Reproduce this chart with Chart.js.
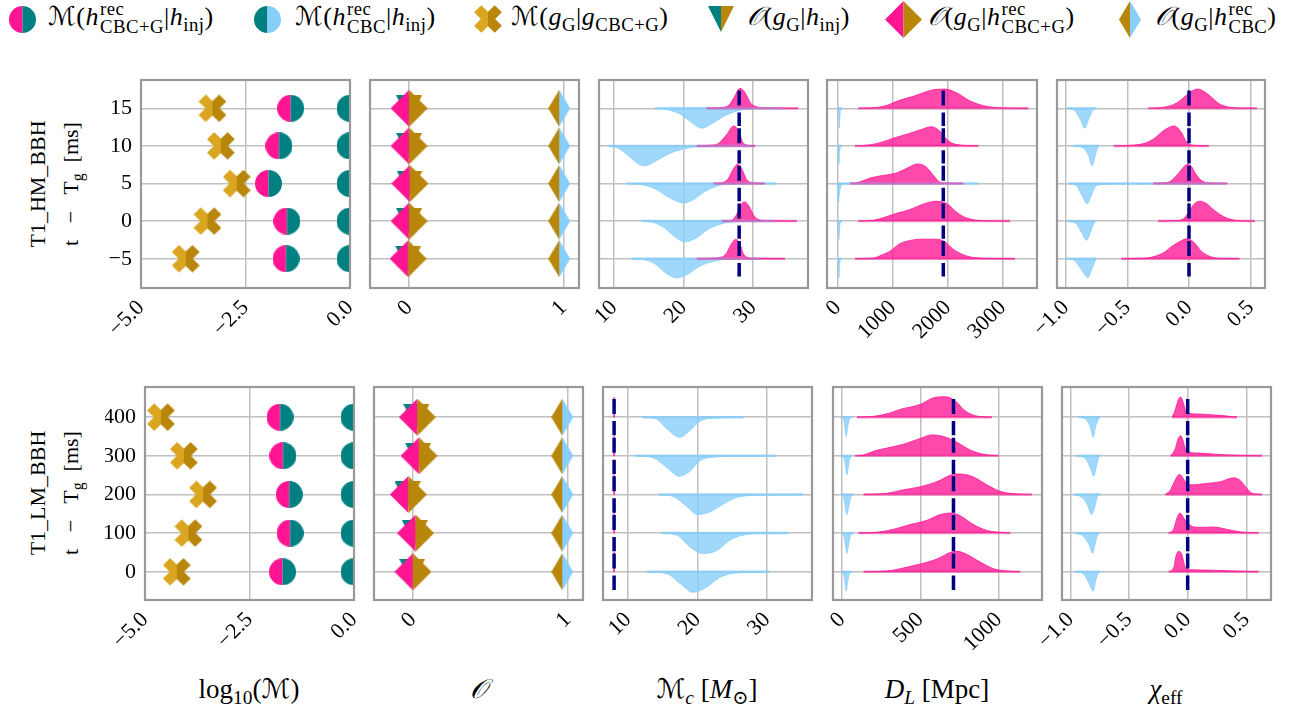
<!DOCTYPE html>
<html>
<head>
<meta charset="utf-8">
<script src="https://cdn.jsdelivr.net/npm/chart.js@4.4.1/dist/chart.umd.min.js"></script>
<style>
  body { margin: 0; width: 1316px; height: 711px; position: relative; overflow: hidden; background: #fff;
         font-family: "Liberation Serif", "DejaVu Serif", serif; color: #000; }
  canvas.panel { position: absolute; left: 0; top: 0; }
  .icon { position: absolute; }
  .lg { position: absolute; top: 1px; font-size: 26px; line-height: 30px; letter-spacing: 0.5px; white-space: nowrap; }
  .cal { font-family: "DejaVu Serif", "DejaVu Sans", serif; font-style: italic; }
  .ss { display: inline-block; position: relative; font-size: 0.72em; line-height: 1; vertical-align: -0.42em; margin-left: 1px; }
  .ss .up { position: absolute; left: 0; top: -0.98em; }
  sub { font-size: 0.72em; vertical-align: -0.3em; line-height: 0; }
  .ylab { position: absolute; width: 240px; height: 66px; font-size: 22px; line-height: 33px; text-align: center;
          transform: rotate(-90deg); white-space: nowrap; }
  .xlab { position: absolute; top: 673px; width: 200px; font-size: 27px; line-height: 32px; text-align: center; white-space: nowrap; }
</style>
</head>
<body>

<div class="lg" style="left:48px"><span class="cal">ℳ</span>(<i>h</i><span class="ss"><span class="up">rec</span>CBC+G</span>|<i>h</i><sub>inj</sub>)</div>
<div class="lg" style="left:295px"><span class="cal">ℳ</span>(<i>h</i><span class="ss"><span class="up">rec</span>CBC</span>|<i>h</i><sub>inj</sub>)</div>
<div class="lg" style="left:511px"><span class="cal">ℳ</span>(<i>g</i><sub>G</sub>|<i>g</i><sub>CBC+G</sub>)</div>
<div class="lg" style="left:747px"><span class="cal">𝒪</span>(<i>g</i><sub>G</sub>|<i>h</i><sub>inj</sub>)</div>
<div class="lg" style="left:928px"><span class="cal">𝒪</span>(<i>g</i><sub>G</sub>|<i>h</i><span class="ss"><span class="up">rec</span>CBC+G</span>)</div>
<div class="lg" style="left:1155px"><span class="cal">𝒪</span>(<i>g</i><sub>G</sub>|<i>h</i><span class="ss"><span class="up">rec</span>CBC</span>)</div>

<div class="ylab" style="left:-66px; top:151px">T1_HM_BBH<br>t &ensp;−&ensp; T<sub>g</sub>&ensp;[ms]</div>
<div class="ylab" style="left:-66px; top:460px">T1_LM_BBH<br>t &ensp;−&ensp; T<sub>g</sub>&ensp;[ms]</div>

<div class="xlab" style="left:149px">log<sub>10</sub>(<span class="cal">ℳ</span>)</div>
<div class="xlab" style="left:378px"><span class="cal">𝒪</span></div>
<div class="xlab" style="left:607px"><span class="cal">ℳ</span><sub><i>c</i></sub> [<i>M</i><sub>⊙</sub>]</div>
<div class="xlab" style="left:837px"><i>D</i><sub><i>L</i></sub> [Mpc]</div>
<div class="xlab" style="left:1066px"><i>χ</i><sub>eff</sub></div>

<script>
// ---- row offsets (t - Tg) ----
const hmOffsets = [15, 10, 5, 0, -5];
const lmOffsets = [400, 300, 200, 100, 0];
const hmTimeTicks = [-5, 0, 5, 10, 15];
const lmTimeTicks = [0, 100, 200, 300, 400];

// ---- x tick values ----
const misTicks = [-5, -2.5, 0];
const ovTicks = [0, 1];
const mcTicks = [10, 20, 30];
const hmDlTicks = [0, 1000, 2000, 3000];
const lmDlTicks = [0, 500, 1000];
const chiTicks = [-1, -0.5, 0, 0.5];

// ---- log10 mismatches ----
const hmMisCbcG = [-1.42, -1.70, -1.95, -1.51, -1.53];
const hmMisCbc = [0, 0, 0, 0, 0];
const hmMisGlitch = [-3.29, -3.09, -2.71, -3.41, -3.93];
const lmMisCbcG = [-1.77, -1.70, -1.55, -1.53, -1.71];
const lmMisCbc = [0, 0, 0, 0, 0];
const lmMisGlitch = [-4.62, -4.07, -3.61, -3.96, -4.24];

// ---- glitch overlaps ----
const hmOvInj = [0.0, 0.0, 0.003, 0.0, -0.006];
const hmOvCbcG = [0.0, 0.0, 0.005, 0.0, -0.006];
const hmOvCbc = [0.972, 0.972, 0.972, 0.972, 0.972];
const lmOvInj = [0.022, 0.033, -0.035, 0.012, -0.005];
const lmOvCbcG = [0.028, 0.039, -0.03, 0.017, 0.0];
const lmOvCbc = [0.965, 0.965, 0.965, 0.965, 0.965];

// ---- injected values ----
const hmInj = { mc: 28.0, dl: 1920, chi: 0.0 };
const lmInj = { mc: 8.0, dl: 712, chi: 0.0 };

// ---- posterior ridges: [x, height as fraction of row gap], one list per row ----
const hmMcCbcG = [
  [[23.3,0],[25.5,0.02],[26.5,0.08],[27.3,0.3],[28.1,0.53],[28.9,0.4],[29.6,0.15],[30.5,0.04],[32,0.01],[36.5,0]],
  [[21.9,0],[24,0.02],[25,0.06],[26.2,0.3],[27.2,0.53],[27.9,0.4],[28.5,0.1],[29.2,0.02],[30.3,0]],
  [[24.3,0],[25.5,0.02],[26.4,0.12],[27.2,0.4],[27.8,0.51],[28.4,0.38],[29.1,0.1],[30,0.02],[31.7,0]],
  [[25.5,0],[27,0.03],[27.7,0.2],[28.3,0.45],[28.8,0.51],[29.4,0.4],[30.2,0.12],[31.5,0.02],[36.3,0]],
  [[21.9,0],[24.5,0.02],[26,0.1],[26.9,0.4],[27.5,0.52],[28.1,0.4],[28.7,0.1],[29.8,0.02],[34.6,0]]
];
const hmMcCbc = [
  [[15.9,0],[17.5,-0.03],[19.5,-0.15],[21.3,-0.4],[22.6,-0.53],[24,-0.42],[25.7,-0.22],[27.7,-0.07],[30,-0.01],[34.1,0]],
  [[9.2,0],[10.5,-0.05],[12,-0.25],[13.5,-0.48],[14.5,-0.53],[16,-0.4],[18,-0.2],[20,-0.08],[22,-0.02],[30,0]],
  [[11.8,0],[14,-0.03],[16,-0.15],[18,-0.38],[20,-0.52],[21.5,-0.42],[23,-0.22],[24.8,-0.07],[27,-0.01],[33.2,0]],
  [[14,0],[15.5,-0.03],[17,-0.15],[18.8,-0.42],[20.2,-0.55],[21.8,-0.45],[23.5,-0.22],[25.7,-0.06],[28,-0.01],[32.9,0]],
  [[12.5,0],[14.5,-0.03],[16,-0.15],[17.6,-0.4],[19,-0.51],[20.5,-0.42],[22.3,-0.2],[24.5,-0.06],[27,-0.01],[31,0]]
];
const hmDlCbcG = [
  [[375,0],[700,0.02],[900,0.08],[1100,0.2],[1400,0.33],[1700,0.48],[1950,0.51],[2150,0.42],[2400,0.2],[2650,0.07],[3000,0.01],[3465,0]],
  [[315,0],[600,0.03],[800,0.1],[1000,0.2],[1300,0.33],[1550,0.45],[1700,0.51],[1850,0.4],[2000,0.15],[2150,0.04],[2556,0]],
  [[224,0],[400,0.04],[600,0.15],[850,0.22],[1050,0.27],[1250,0.4],[1450,0.52],[1600,0.45],[1750,0.2],[1870,0.03],[2284,0]],
  [[375,0],[650,0.02],[850,0.1],[1050,0.2],[1300,0.3],[1550,0.45],[1800,0.53],[2000,0.45],[2150,0.25],[2350,0.08],[2650,0.01],[3133,0]],
  [[315,0],[650,0.02],[800,0.1],[950,0.2],[1130,0.4],[1300,0.48],[1500,0.52],[1800,0.52],[1950,0.45],[2100,0.25],[2350,0.07],[2700,0.01],[3224,0]]
];
const hmDlCbc = [
  [[-10,0],[10,-0.08],[22,-0.35],[29,-0.53],[36,-0.3],[50,-0.05],[80,0]],
  [[-10,0],[8,-0.08],[16,-0.3],[22,-0.49],[30,-0.25],[45,-0.04],[75,0]],
  [[-18,0],[0,-0.15],[8,-0.4],[14,-0.52],[24,-0.35],[45,-0.12],[80,-0.03],[140,-0.005],[2556,0]],
  [[-10,0],[8,-0.08],[16,-0.3],[22,-0.49],[30,-0.25],[45,-0.04],[75,0]],
  [[-10,0],[8,-0.08],[16,-0.3],[22,-0.5],[30,-0.25],[45,-0.04],[75,0]]
];
const hmChiCbcG = [
  [[-0.33,0],[-0.2,0.03],[-0.1,0.14],[-0.03,0.32],[0.03,0.47],[0.07,0.51],[0.12,0.45],[0.18,0.3],[0.24,0.13],[0.31,0.04],[0.4,0.01],[0.55,0]],
  [[-0.61,0],[-0.45,0.02],[-0.36,0.07],[-0.28,0.2],[-0.2,0.42],[-0.12,0.53],[-0.06,0.35],[-0.02,0.1],[0.03,0.02],[0.16,0]],
  [[-0.29,0],[-0.2,0.02],[-0.15,0.06],[-0.09,0.25],[-0.04,0.45],[-0.01,0.51],[0.02,0.45],[0.05,0.28],[0.1,0.08],[0.16,0.02],[0.31,0]],
  [[-0.25,0],[-0.12,0.01],[-0.05,0.05],[0.0,0.25],[0.04,0.45],[0.09,0.53],[0.14,0.47],[0.2,0.3],[0.28,0.12],[0.36,0.03],[0.45,0.005],[0.535,0]],
  [[-0.55,0],[-0.4,0.01],[-0.32,0.03],[-0.21,0.15],[-0.13,0.35],[-0.05,0.5],[-0.02,0.53],[0.035,0.45],[0.1,0.2],[0.17,0.06],[0.25,0.01],[0.41,0]]
];
const hmChiCbc = [
  [[-0.99,0],[-0.93,-0.05],[-0.88,-0.3],[-0.845,-0.53],[-0.815,-0.3],[-0.78,-0.05],[-0.75,0]],
  [[-0.94,0],[-0.86,-0.05],[-0.815,-0.25],[-0.785,-0.53],[-0.76,-0.25],[-0.74,-0.05],[-0.73,0]],
  [[-0.98,0],[-0.92,-0.04],[-0.87,-0.3],[-0.825,-0.54],[-0.79,-0.3],[-0.75,-0.05],[-0.6,-0.01],[0.306,0]],
  [[-0.99,0],[-0.92,-0.05],[-0.87,-0.3],[-0.83,-0.51],[-0.8,-0.3],[-0.77,-0.05],[-0.76,0]],
  [[-1.0,0],[-0.93,-0.05],[-0.87,-0.3],[-0.82,-0.5],[-0.79,-0.3],[-0.76,-0.05],[-0.75,0]]
];

const lmMcCbcG = [
  [[7.93,0],[7.98,0.35],[8.0,0.52],[8.02,0.35],[8.07,0]],
  [[7.93,0],[7.98,0.35],[8.0,0.52],[8.02,0.35],[8.07,0]],
  [[7.93,0],[7.98,0.35],[8.0,0.52],[8.02,0.35],[8.07,0]],
  [[7.93,0],[7.98,0.35],[8.0,0.52],[8.02,0.35],[8.07,0]],
  [[7.93,0],[7.98,0.35],[8.0,0.52],[8.02,0.35],[8.07,0]]
];
const lmMcCbc = [
  [[12,0],[14.1,-0.05],[15.6,-0.3],[17.4,-0.52],[18.9,-0.35],[20.4,-0.1],[22.8,-0.02],[26.6,0]],
  [[11,0],[13.6,-0.05],[15.6,-0.3],[17.4,-0.53],[18.9,-0.4],[20.4,-0.12],[22.8,-0.03],[26,-0.005],[31.2,0]],
  [[14.4,0],[16.5,-0.05],[18.4,-0.3],[20,-0.52],[21.8,-0.45],[23.7,-0.25],[25.6,-0.08],[28.5,-0.02],[35.2,0]],
  [[14.8,0],[17,-0.05],[18.9,-0.35],[20.8,-0.53],[22.8,-0.45],[24.7,-0.18],[26.6,-0.05],[29,-0.01],[33.1,0]],
  [[12.7,0],[15.6,-0.05],[17.5,-0.3],[19.4,-0.53],[21.3,-0.4],[23.2,-0.15],[25.2,-0.04],[30.4,0]]
];
const lmDlCbcG = [
  [[96,0],[200,0.02],[300,0.1],[370,0.2],[500,0.33],[585,0.5],[650,0.53],[690,0.5],[735,0.38],[776,0.2],[840,0.05],[900,0.01],[957,0]],
  [[85,0],[138,0.02],[202,0.12],[287,0.2],[393,0.3],[500,0.45],[574,0.54],[648,0.5],[734,0.35],[819,0.15],[904,0.04],[1000,0]],
  [[138,0],[287,0.03],[393,0.12],[500,0.2],[606,0.33],[712,0.52],[755,0.53],[840,0.45],[925,0.25],[1010,0.08],[1095,0.02],[1212,0]],
  [[106,0],[223,0.02],[330,0.1],[415,0.2],[542,0.33],[627,0.48],[691,0.52],[755,0.45],[840,0.22],[925,0.07],[1010,0.02],[1074,0]],
  [[138,0],[287,0.02],[393,0.1],[500,0.2],[606,0.33],[691,0.5],[734,0.53],[798,0.45],[883,0.25],[968,0.08],[1053,0.02],[1138,0]]
];
const lmDlCbc = [
  [[0,0],[12,-0.08],[20,-0.3],[27,-0.5],[35,-0.3],[45,-0.08],[64,0]],
  [[0,0],[15,-0.08],[24,-0.3],[32,-0.49],[40,-0.3],[50,-0.08],[64,0]],
  [[-5,0],[12,-0.1],[22,-0.35],[32,-0.52],[44,-0.3],[58,-0.06],[75,0]],
  [[0,0],[14,-0.1],[24,-0.35],[32,-0.52],[42,-0.3],[55,-0.06],[75,0]],
  [[0,0],[12,-0.08],[20,-0.3],[27,-0.5],[35,-0.3],[45,-0.08],[64,0]]
];
const lmChiCbcG = [
  [[-0.133,0],[-0.11,0.15],[-0.08,0.45],[-0.06,0.52],[-0.04,0.4],[-0.02,0.2],[0.01,0.1],[0.1,0.08],[0.2,0.06],[0.3,0.04],[0.42,0]],
  [[-0.147,0],[-0.11,0.15],[-0.08,0.45],[-0.06,0.52],[-0.04,0.4],[-0.02,0.18],[0.01,0.1],[0.1,0.07],[0.2,0.05],[0.3,0.03],[0.45,0.01],[0.634,0]],
  [[-0.19,0],[-0.15,0.1],[-0.11,0.35],[-0.07,0.52],[-0.035,0.4],[0.0,0.25],[0.05,0.25],[0.14,0.28],[0.28,0.33],[0.39,0.43],[0.44,0.38],[0.48,0.25],[0.52,0.1],[0.55,0.03],[0.634,0]],
  [[-0.162,0],[-0.12,0.1],[-0.09,0.4],[-0.065,0.52],[-0.035,0.4],[-0.006,0.28],[0.05,0.16],[0.13,0.15],[0.22,0.16],[0.33,0.1],[0.45,0.03],[0.605,0]],
  [[-0.162,0],[-0.12,0.1],[-0.1,0.4],[-0.077,0.53],[-0.05,0.45],[-0.025,0.15],[0.0,0.07],[0.05,0.05],[0.2,0.04],[0.4,0.02],[0.605,0]]
];
const lmChiCbc = [
  [[-0.93,0],[-0.87,-0.05],[-0.83,-0.25],[-0.805,-0.52],[-0.785,-0.25],[-0.76,-0.05],[-0.744,0]],
  [[-0.95,0],[-0.88,-0.05],[-0.83,-0.3],[-0.8,-0.53],[-0.78,-0.3],[-0.76,-0.05],[-0.744,0]],
  [[-0.97,0],[-0.9,-0.08],[-0.85,-0.3],[-0.82,-0.52],[-0.79,-0.3],[-0.77,-0.06],[-0.744,0]],
  [[-0.96,0],[-0.89,-0.08],[-0.84,-0.3],[-0.81,-0.52],[-0.79,-0.3],[-0.77,-0.06],[-0.75,0]],
  [[-0.96,0],[-0.89,-0.05],[-0.84,-0.3],[-0.805,-0.5],[-0.785,-0.25],[-0.765,-0.05],[-0.744,0]]
];

// ---- styling ----
const PINK = '#ff1493', TEAL = '#008080', GOLD = '#daa520', DKGOLD = '#b8860b', SKY = '#87cefa', NAVY = '#000080';
const PINK_FILL = 'rgba(255,20,147,0.78)', SKY_FILL = 'rgba(135,206,250,0.8)';
const PINK_SPAN = 'rgba(255,20,147,0.45)', SKY_SPAN = 'rgba(135,206,250,0.75)';
const GRID = '#c0c0c0';
const FW = 1316, FH = 711;
Chart.defaults.font.family = '"Liberation Serif", serif';

// two-tone marker sprites, split down the middle
function sprite(w, h, left, right, shape) {
  const c = document.createElement('canvas');
  c.width = w; c.height = h;
  const g = c.getContext('2d');
  g.translate(w / 2, h / 2);
  g.beginPath();
  shape(g, w / 2, h / 2);
  g.closePath();
  g.clip();
  g.fillStyle = left; g.fillRect(-w / 2, -h / 2, w / 2, h);
  g.fillStyle = right; g.fillRect(0, -h / 2, w / 2, h);
  return c;
}
const circle = (g, rx) => g.arc(0, 0, rx, 0, Math.PI * 2);
const diamond = (g, rx, ry) => { g.moveTo(0, -ry); g.lineTo(rx, 0); g.lineTo(0, ry); g.lineTo(-rx, 0); };
const triDown = (g, rx, ry) => { g.moveTo(-rx, -ry); g.lineTo(rx, -ry); g.lineTo(0, ry); };
const xCross = (g, rx) => {
  const L = rx * 1.04, t = rx * 0.36;
  const pts = [[t,L],[t,t],[L,t],[L,-t],[t,-t],[t,-L],[-t,-L],[-t,-t],[-L,-t],[-L,t],[-t,t],[-t,L]];
  const c = Math.SQRT1_2;
  pts.forEach(([x, y], i) => {
    const px = (x - y) * c, py = (x + y) * c;
    i ? g.lineTo(px, py) : g.moveTo(px, py);
  });
};
const markers = {
  cbcgCircle: () => sprite(27, 27, PINK, TEAL, circle),
  cbcCircle: () => sprite(27, 27, TEAL, SKY, circle),
  glitchX: () => sprite(28, 28, GOLD, DKGOLD, xCross),
  injTri: () => sprite(26, 26, TEAL, DKGOLD, triDown),
  cbcgDiamond: () => sprite(37, 37, PINK, DKGOLD, diamond),
  cbcDiamond: () => sprite(22, 37, DKGOLD, SKY, diamond)
};

// legend icons
[['cbcgCircle', 22], ['cbcCircle', 267], ['glitchX', 488], ['injTri', 721], ['cbcgDiamond', 903], ['cbcDiamond', 1130]]
  .forEach(([key, cx]) => {
    const c = markers[key]();
    c.className = 'icon';
    c.style.left = (cx - c.width / 2) + 'px';
    c.style.top = (19 - c.height / 2) + 'px';
    document.body.appendChild(c);
  });

const frame = {
  id: 'frame',
  afterDatasetsDraw(chart) {
    const a = chart.chartArea, ctx = chart.ctx;
    ctx.save();
    ctx.strokeStyle = '#999';
    ctx.lineWidth = 2.2;
    ctx.strokeRect(a.left, a.top, a.right - a.left, a.bottom - a.top);
    ctx.restore();
  }
};

const fmt1 = v => v.toFixed(1).replace('-', '\u2212');
const fmt0 = v => String(v).replace('-', '\u2212');

const rows = [
  { top: 80, height: 208, lefts: [141, 370, 599, 827, 1057], widths: [209, 209, 209, 210, 208],
    yMin: -8.89, yMax: 18.76, yTicks: hmTimeTicks, offsets: hmOffsets, gap: 5 },
  { top: 387, height: 213, lefts: [145, 374, 603, 833, 1062], widths: [209, 209, 209, 209, 209],
    yMin: -73, yMax: 478, yTicks: lmTimeTicks, offsets: lmOffsets, gap: 100 }
];

function panel(row, col, xMin, xMax, xTicks, fmt, datasets) {
  const cv = document.createElement('canvas');
  cv.width = FW; cv.height = FH; cv.className = 'panel';
  document.body.appendChild(cv);
  const left = row.lefts[col], width = row.widths[col];
  const yW = 40, xH = 60;
  const tickFont = { size: 22, family: '"Liberation Serif", serif' };
  new Chart(cv, {
    type: 'scatter',
    data: { datasets },
    options: {
      responsive: false, animation: false, events: [],
      layout: { padding: { left: left - yW, top: row.top, right: FW - left - width, bottom: FH - row.top - row.height - xH } },
      plugins: { legend: { display: false }, tooltip: { enabled: false } },
      scales: {
        x: {
          type: 'linear', min: xMin, max: xMax,
          afterBuildTicks: s => { s.ticks = xTicks.map(v => ({ value: v })); },
          afterFit: s => { s.height = xH; s.paddingLeft = 0; s.paddingRight = 0; },
          grid: { color: GRID, lineWidth: 1.5, drawTicks: false },
          border: { display: false },
          ticks: { autoSkip: false, minRotation: 45, maxRotation: 45, padding: 7, color: '#000', font: tickFont, callback: v => fmt(v) }
        },
        y: {
          type: 'linear', min: row.yMin, max: row.yMax,
          afterBuildTicks: s => { s.ticks = row.yTicks.map(v => ({ value: v })); },
          afterFit: s => { s.width = yW; s.paddingTop = 0; s.paddingBottom = 0; },
          grid: { color: GRID, lineWidth: 1.5, drawTicks: false },
          border: { display: false },
          ticks: { display: col === 0, padding: 9, color: '#000', font: tickFont, callback: v => fmt0(v) }
        }
      }
    },
    plugins: [frame]
  });
}

function points(xs, offsets, style, order) {
  const img = markers[style]();
  return { data: xs.map((x, i) => ({ x, y: offsets[i] })), pointStyle: img, pointRadius: 13, clip: 0, order };
}
function ridges(curves, row, fill, order) {
  return curves.map((c, i) => ({
    data: c.map(([x, h]) => ({ x, y: row.offsets[i] + h * row.gap })),
    showLine: true, fill: { value: row.offsets[i] }, backgroundColor: fill, borderColor: fill, borderWidth: 1,
    pointRadius: 0, cubicInterpolationMode: 'monotone', clip: 0, order
  }));
}
function spans(curves, row, color, order) {
  return curves.map((c, i) => ({
    data: [{ x: c[0][0], y: row.offsets[i] }, { x: c[c.length - 1][0], y: row.offsets[i] }],
    showLine: true, borderColor: color, borderWidth: 2.5, pointRadius: 0, clip: 0, order
  }));
}
function injLines(x, row) {
  return row.offsets.map(o => ({
    data: [{ x, y: o + 0.47 * row.gap }, { x, y: o - 0.47 * row.gap }],
    showLine: true, borderColor: NAVY, borderWidth: 3.5, borderDash: [15, 7], pointRadius: 0, order: 0
  }));
}
function posterior(row, cbcg, cbc, inj) {
  return [
    ...ridges(cbc, row, SKY_FILL, 6), ...ridges(cbcg, row, PINK_FILL, 5),
    ...spans(cbc, row, SKY_SPAN, 4), ...spans(cbcg, row, PINK_SPAN, 3),
    ...injLines(inj, row)
  ];
}

// top row: high-mass BBH
const hm = rows[0];
panel(hm, 0, -5, 0, misTicks, fmt1, [
  points(hmMisGlitch, hm.offsets, 'glitchX', 1),
  points(hmMisCbcG, hm.offsets, 'cbcgCircle', 1),
  points(hmMisCbc, hm.offsets, 'cbcCircle', 1)
]);
panel(hm, 1, -0.253, 1.1, ovTicks, fmt0, [
  points(hmOvInj, hm.offsets, 'injTri', 2),
  points(hmOvCbcG, hm.offsets, 'cbcgDiamond', 1),
  points(hmOvCbc, hm.offsets, 'cbcDiamond', 1)
]);
panel(hm, 2, 7.84, 37.9, mcTicks, fmt0, posterior(hm, hmMcCbcG, hmMcCbc, hmInj.mc));
panel(hm, 3, -195, 3624, hmDlTicks, fmt0, posterior(hm, hmDlCbcG, hmDlCbc, hmInj.dl));
panel(hm, 4, -1.07, 0.616, chiTicks, fmt1, posterior(hm, hmChiCbcG, hmChiCbc, hmInj.chi));

// bottom row: low-mass BBH
const lm = rows[1];
panel(lm, 0, -5, 0, misTicks, fmt1, [
  points(lmMisGlitch, lm.offsets, 'glitchX', 1),
  points(lmMisCbcG, lm.offsets, 'cbcgCircle', 1),
  points(lmMisCbc, lm.offsets, 'cbcCircle', 1)
]);
panel(lm, 1, -0.252, 1.099, ovTicks, fmt0, [
  points(lmOvInj, lm.offsets, 'injTri', 2),
  points(lmOvCbcG, lm.offsets, 'cbcgDiamond', 1),
  points(lmOvCbc, lm.offsets, 'cbcDiamond', 1)
]);
panel(lm, 2, 6.4, 36.5, mcTicks, fmt0, posterior(lm, lmMcCbcG, lmMcCbc, lmInj.mc));
panel(lm, 3, -57, 1277, lmDlTicks, fmt0, posterior(lm, lmDlCbcG, lmDlCbc, lmInj.dl));
panel(lm, 4, -1.071, 0.71, chiTicks, fmt1, posterior(lm, lmChiCbcG, lmChiCbc, lmInj.chi));
</script>
</body>
</html>
